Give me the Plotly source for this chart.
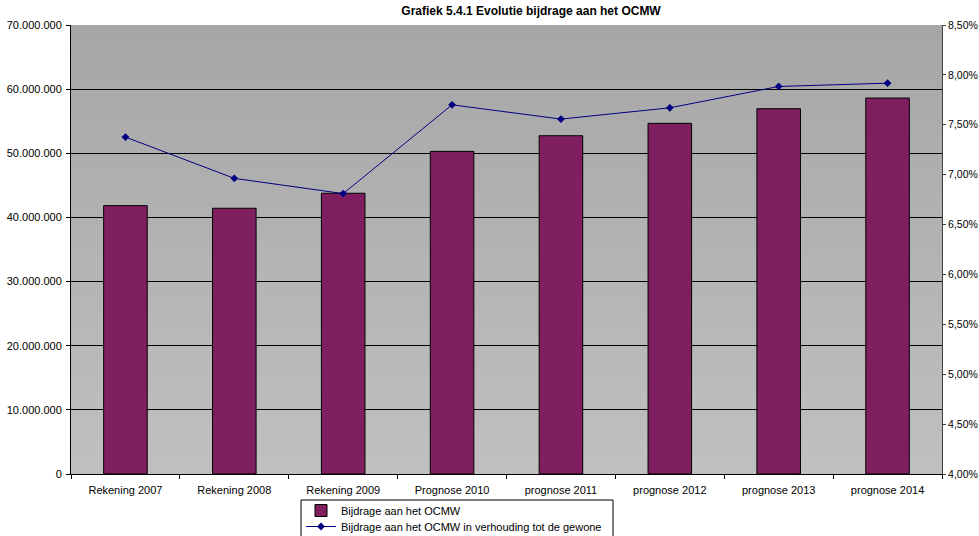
import plotly.graph_objects as go

categories = ["Rekening 2007", "Rekening 2008", "Rekening 2009", "Prognose 2010",
              "prognose 2011", "prognose 2012", "prognose 2013", "prognose 2014"]
bijdrage = [41840000, 41430000, 43770000, 50300000, 52740000, 54670000, 56950000, 58610000]
aandeel = [0.07377, 0.06963, 0.06810, 0.07700, 0.07557, 0.07670, 0.07884, 0.07917]

FONT = "Liberation Sans, Arial, sans-serif"

# plotvlak in pixels: links 71, rechts 942, boven 25, onder 474
PL, PR, PT, PB = 71, 942, 25, 474


def px(x):
    return (x - PL) / (PR - PL)


def py(y):
    return (PB - y) / (PB - PT)


fig = go.Figure()

fig.add_trace(go.Bar(
    x=categories, y=bijdrage, name="Bijdrage aan het OCMW",
    marker=dict(color="#7f1f5f", line=dict(color="#000000", width=1)),
    width=0.4, legend="legend",
))
fig.add_trace(go.Scatter(
    x=categories, y=aandeel, yaxis="y2", mode="lines+markers",
    name="Bijdrage aan het OCMW in verhouding tot de gewone",
    line=dict(color="#000080", width=1),
    marker=dict(symbol="diamond", size=6, color="#000080"),
    legend="legend2",
))

# gradient achtergrond van het plotvlak (donker boven, licht onder)
n_bands = 60
for i in range(n_bands):
    t = i / (n_bands - 1)
    c = int(round(0xC0 + (0xA6 - 0xC0) * t))
    fig.add_shape(type="rect", xref="x domain", yref="y domain",
                  x0=0, x1=1, y0=i / n_bands, y1=(i + 1) / n_bands,
                  fillcolor=f"rgb({c},{c},{c})", line=dict(width=0), layer="below")

# kader rond de legende
fig.add_shape(type="rect", xref="paper", yref="paper",
              x0=px(301), x1=px(613), y0=py(560), y1=py(500),
              fillcolor="white", line=dict(color="#000000", width=1), layer="below")

legend_style = dict(xanchor="left", yanchor="top", bgcolor="rgba(0,0,0,0)",
                    borderwidth=0, font=dict(size=11, family=FONT))

fig.update_layout(
    width=979, height=536,
    margin=dict(l=PL, r=979 - PR, t=PT, b=536 - PB, autoexpand=False),
    paper_bgcolor="white", plot_bgcolor="#b3b3b3",
    separators=",.",
    font=dict(family=FONT, size=11, color="#000000"),
    title=dict(text="<b>Grafiek 5.4.1 Evolutie bijdrage aan het OCMW</b>",
               x=531 / 979, xanchor="center", y=1 - 11 / 536, yanchor="middle",
               font=dict(size=12, family=FONT)),
    bargap=0.6,
    showlegend=True,
    legend=dict(x=px(301), y=py(496), **legend_style),
    legend2=dict(x=px(301), y=py(512), **legend_style),
    xaxis=dict(type="category", showgrid=False, tickson="boundaries",
               ticks="outside", ticklen=4, tickcolor="#000000",
               showline=True, linecolor="#000000", linewidth=1,
               tickfont=dict(size=11), ticklabelstandoff=6),
    yaxis=dict(range=[0, 70000000], dtick=10000000, tickformat=",d",
               showgrid=True, gridcolor="#000000", gridwidth=1,
               ticks="outside", ticklen=4, tickcolor="#000000",
               showline=True, linecolor="#000000", linewidth=1,
               zeroline=False, tickfont=dict(size=11), ticklabelstandoff=2),
    yaxis2=dict(range=[0.04, 0.085], dtick=0.005, tickformat=".2%",
                overlaying="y", side="right", showgrid=False,
                ticks="outside", ticklen=3, tickcolor="#404040",
                showline=True, linecolor="#404040", linewidth=1,
                zeroline=False, tickfont=dict(size=10.5), ticklabelstandoff=0),
)

fig.write_html("out.html", config={"displayModeBar": False},
               post_script="document.body.style.margin='0';")
